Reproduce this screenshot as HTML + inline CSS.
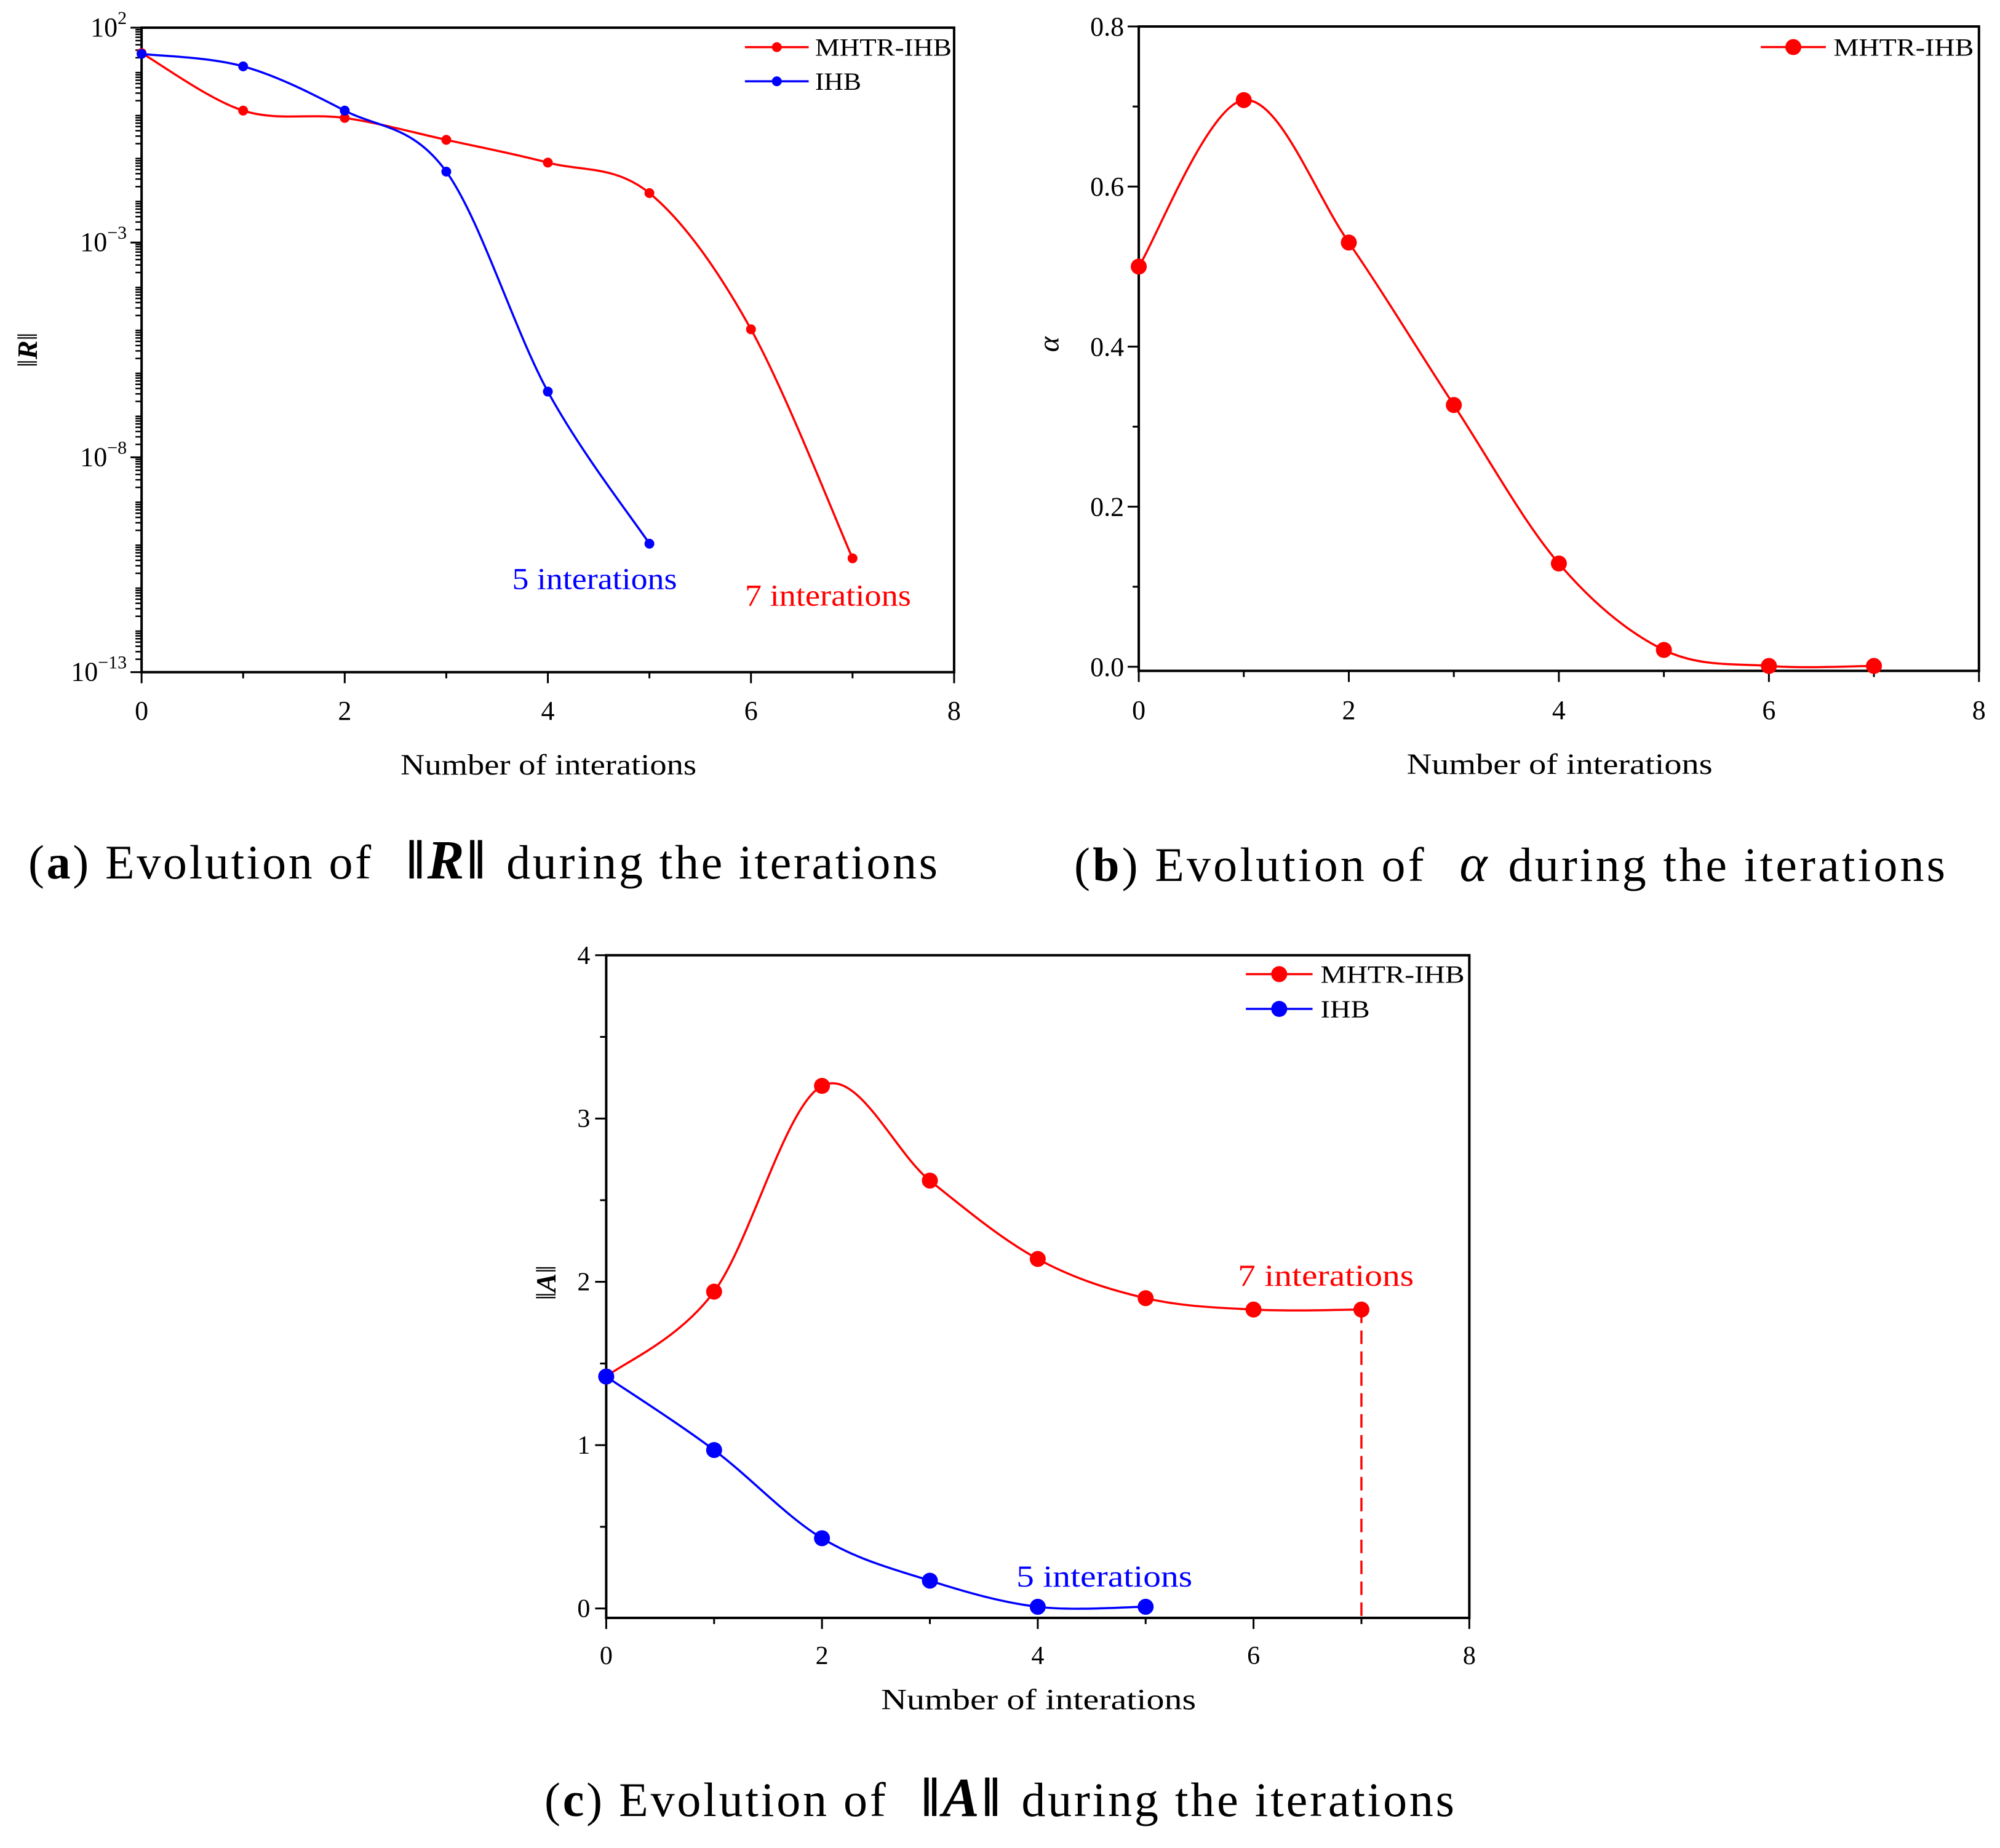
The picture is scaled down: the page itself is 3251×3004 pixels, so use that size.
<!DOCTYPE html>
<html><head><meta charset="utf-8"><style>
html,body{margin:0;padding:0;background:#fff;}
svg{display:block;font-family:"Liberation Serif",serif;}
</style></head><body>
<svg id="fig" width="3251" height="3004" viewBox="0 0 3251 3004" xmlns="http://www.w3.org/2000/svg">
<rect width="3251" height="3004" fill="#fff"/>
<g id="pa"></g>
<g id="pb"></g>
<g id="pc"></g>
</svg>
<script>
// ---- data ----
const iterations = [0,1,2,3,4,5,6,7];
const aMhtrLog = [1.41,0.07,-0.10,-0.61,-1.14,-1.85,-5.02,-10.35];
const aIhbLog = [1.39,1.10,0.07,-1.35,-6.47,-10.01];
const aYTicks = [2,-3,-8,-13];
const bAlpha = [0.5,0.708,0.53,0.327,0.129,0.021,0.001,0.001];
const bYTicks = [0.0,0.2,0.4,0.6,0.8];
const cMhtr = [1.42,1.94,3.2,2.62,2.14,1.9,1.83,1.83];
const cIhb = [1.42,0.97,0.43,0.17,0.01,0.01];
const cYTicks = [0,1,2,3,4];
const xTicks = [0,2,4,6,8];

const NS="http://www.w3.org/2000/svg";
function mk(parent,tag,attrs,text){const e=document.createElementNS(NS,tag);for(const k in attrs)e.setAttribute(k,attrs[k]);if(text!==undefined)e.textContent=text;parent.appendChild(e);return e;}
function spline(pts){let d="M"+pts[0][0]+","+pts[0][1];for(let i=0;i<pts.length-1;i++){const p0=pts[Math.max(0,i-1)],p1=pts[i],p2=pts[i+1],p3=pts[Math.min(pts.length-1,i+2)];const c1=[p1[0]+(p2[0]-p0[0])/6,p1[1]+(p2[1]-p0[1])/6];const c2=[p2[0]-(p3[0]-p1[0])/6,p2[1]-(p3[1]-p1[1])/6];d+=" C"+c1[0]+","+c1[1]+" "+c2[0]+","+c2[1]+" "+p2[0]+","+p2[1];}return d;}

function frame(g,L,R,T,B,name){
  const r=mk(g,"rect",{x:L,y:T,width:R-L,height:B-T,fill:"none",stroke:"#000","stroke-width":4});
  
  
}
function series(g,pts,color,rad,name){
  const p=mk(g,"path",{d:spline(pts),fill:"none",stroke:color,"stroke-width":3.5});
  
  
  pts.forEach((q,i)=>{const c=mk(g,"circle",{cx:q[0],cy:q[1],r:rad,fill:color});
    
    });
}
function legend(g,x1,x2,y,tx,color,rad,label,fs,len){
  const l=mk(g,"line",{x1:x1,x2:x2,y1:y,y2:y,stroke:color,"stroke-width":3.5});
  
  
  const c=mk(g,"circle",{cx:(x1+x2)/2,cy:y,r:rad,fill:color});
  
  
  const t=mk(g,"text",{x:tx,y:y+fs*0.35,"font-size":fs,fill:"#000",textLength:len,lengthAdjust:"spacingAndGlyphs"},label);
  
  
}
function xAxis(g,B,sx,fs,ty){
  for(let v=0;v<=8;v++){const x=sx(v);const t=mk(g,"line",{x1:x,x2:x,y1:B,y2:B+(v%2?10:18),stroke:"#000","stroke-width":3});
    
    }
  xTicks.forEach(v=>{const t=mk(g,"text",{x:sx(v),y:ty,"font-size":fs,"text-anchor":"middle"},String(v));
    
    });
}
function txt(g,x,y,fs,color,s,len,name,anchor){
  const a={x:x,y:y,"font-size":fs,fill:color,textLength:len,lengthAdjust:"spacingAndGlyphs"};
  if(anchor)a["text-anchor"]=anchor;
  const t=mk(g,"text",a,s);
  
  
  return t;
}
function caption(g,x,y,len,letter,mid,midStyle){
  const t=mk(g,"text",{x:x,y:y,"font-size":78,textLength:len,lengthAdjust:"spacing"});
  
  
  mk(t,"tspan",{},"(");mk(t,"tspan",{"font-weight":"bold"},letter);mk(t,"tspan",{},") Evolution of ");
  mk(t,"tspan",{dx:30,...midStyle},mid);mk(t,"tspan",{dx:30},"during the iterations");
}

// ---- panel a ----
(function(){
  const g=document.getElementById('pa');
  const PX=z=>z*1.0367, PY=z=>z*0.9576;
  const L=PX(222),R=PX(1496),T=PY(47),B=PY(1141);
  const sx=v=>L+v*(R-L)/8, sy=v=>T+(2-v)*(B-T)/15;
  frame(g,L,R,T,B,'plot-a');
  for(let d=2;d>-13;d--){for(let m=2;m<=9;m++){const y=sy(d-1+Math.log10(m));const t=mk(g,"line",{x1:L,x2:L-10,y1:y,y2:y,stroke:"#000","stroke-width":2.5});
    
    }}
  aYTicks.forEach(v=>{const y=sy(v);const t=mk(g,"line",{x1:L,x2:L-18,y1:y,y2:y,stroke:"#000","stroke-width":3});
    
    
    const lab=mk(g,"text",{x:L-24,y:y+14,"font-size":44,"text-anchor":"end"});
    
    
    mk(lab,"tspan",{},"10");mk(lab,"tspan",{dy:-20,"font-size":30},v<0?"\u2212"+(-v):String(v));});
  xAxis(g,B,sx,44,PY(1222));
  series(g,aMhtrLog.map((v,i)=>[sx(iterations[i]),sy(v)]),"#ff0000",8,'mhtr-ihb-a');
  series(g,aIhbLog.map((v,i)=>[sx(iterations[i]),sy(v)]),"#0000ff",8,'ihb-a');
  legend(g,PX(1168),PX(1268),PY(80),PX(1278),"#ff0000",8,"MHTR-IHB",40,222);
  legend(g,PX(1168),PX(1268),PY(138),PX(1278),"#0000ff",8,"IHB",40,75);
  txt(g,PX(803),PY(1000),50,"#0000ff","5 interations",268,'annotation-5-iterations');
  txt(g,PX(1168),PY(1028),50,"#ff0000","7 interations",270,'annotation-7-iterations');
  txt(g,PX(628),PY(1315),48,"#000","Number of interations",481,'x-axis-title');
  const t=mk(g,"text",{x:0,y:0,"font-size":46,"text-anchor":"middle",transform:"translate("+(PX(58))+","+PY(594)+") rotate(-90)"});
  
  
  mk(t,"tspan",{},"\u2016");mk(t,"tspan",{"font-weight":"bold","font-style":"italic"},"R");mk(t,"tspan",{},"\u2016");
  caption(g,46,1428,1478,"a","\u2016R\u2016",{"font-weight":"bold","font-style":"italic","font-size":90});
})();

// ---- panel b ----
(function(){
  const g=document.getElementById('pb');
  const PX=z=>1625+z*1.037, PY=z=>z*0.9566;
  const L=PX(218),R=PX(1535),T=PY(45),B=PY(1140),Y0=PY(1133);
  const sx=v=>L+v*(R-L)/8, sy=v=>Y0-v*(Y0-T)/0.8;
  frame(g,L,R,T,B,'plot-b');
  for(let i=0;i<=8;i++){const y=sy(i*0.1);const t=mk(g,"line",{x1:L,x2:L-(i%2?10:18),y1:y,y2:y,stroke:"#000","stroke-width":3});
    
    }
  bYTicks.forEach(v=>{const t=mk(g,"text",{x:L-24,y:sy(v)+15,"font-size":44,"text-anchor":"end"},v.toFixed(1));
    
    });
  xAxis(g,B,sx,44,PY(1222));
  series(g,bAlpha.map((v,i)=>[sx(iterations[i]),sy(v)]),"#ff0000",13,'alpha');
  legend(g,PX(1193),PX(1295),PY(80),PX(1307),"#ff0000",13,"MHTR-IHB",40,228);
  txt(g,PX(638),PY(1315),48,"#000","Number of interations",497,'x-axis-title');
  const t=mk(g,"text",{x:0,y:0,"font-size":48,"font-style":"italic","text-anchor":"middle",transform:"translate("+PX(92)+","+PY(585)+") rotate(-90)"},"\u03b1");
  
  
  caption(g,1746,1432,1416,"b","\u03b1",{"font-style":"italic","font-size":86});
})();

// ---- panel c ----
(function(){
  const g=document.getElementById('pc');
  const PX=z=>800+z*1.0842, PY=z=>1500+z*0.9592;
  const L=PX(171),R=PX(1465),T=PY(55),B=PY(1178),Y0=PY(1162);
  const sx=v=>L+v*(R-L)/8, sy=v=>Y0-v*(Y0-T)/4;
  frame(g,L,R,T,B,'plot-c');
  for(let i=0;i<=8;i++){const y=sy(i*0.5);const t=mk(g,"line",{x1:L,x2:L-(i%2?10:18),y1:y,y2:y,stroke:"#000","stroke-width":3});
    
    }
  cYTicks.forEach(v=>{const t=mk(g,"text",{x:L-26,y:sy(v)+14,"font-size":42,"text-anchor":"end"},String(v));
    
    });
  xAxis(g,B,sx,42,PY(1256));
  const dash=mk(g,"line",{x1:sx(7),x2:sx(7),y1:sy(cMhtr[7]),y2:B,stroke:"#ff0000","stroke-width":3.5,"stroke-dasharray":"22,12"});
  
  
  series(g,cMhtr.map((v,i)=>[sx(iterations[i]),sy(v)]),"#ff0000",13,'mhtr-ihb-c');
  series(g,cIhb.map((v,i)=>[sx(iterations[i]),sy(v)]),"#0000ff",13,'ihb-c');
  legend(g,PX(1130),PX(1230),PY(87),PX(1242),"#ff0000",13,"MHTR-IHB",40,234);
  legend(g,PX(1130),PX(1230),PY(146),PX(1242),"#0000ff",13,"IHB",40,80);
  txt(g,PX(1118),PY(615),50,"#ff0000","7 interations",286,'annotation-7-iterations');
  txt(g,PX(786),PY(1125),50,"#0000ff","5 interations",286,'annotation-5-iterations');
  txt(g,PX(583),PY(1333),48,"#000","Number of interations",512,'x-axis-title');
  const t=mk(g,"text",{x:0,y:0,"font-size":46,"text-anchor":"middle",transform:"translate("+PX(95)+","+PY(610)+") rotate(-90)"});
  
  
  mk(t,"tspan",{},"\u2016");mk(t,"tspan",{"font-weight":"bold","font-style":"italic"},"A");mk(t,"tspan",{},"\u2016");
  caption(g,885,2952,1479,"c","\u2016A\u2016",{"font-weight":"bold","font-style":"italic","font-size":90});
})();
</script>
</body></html>
